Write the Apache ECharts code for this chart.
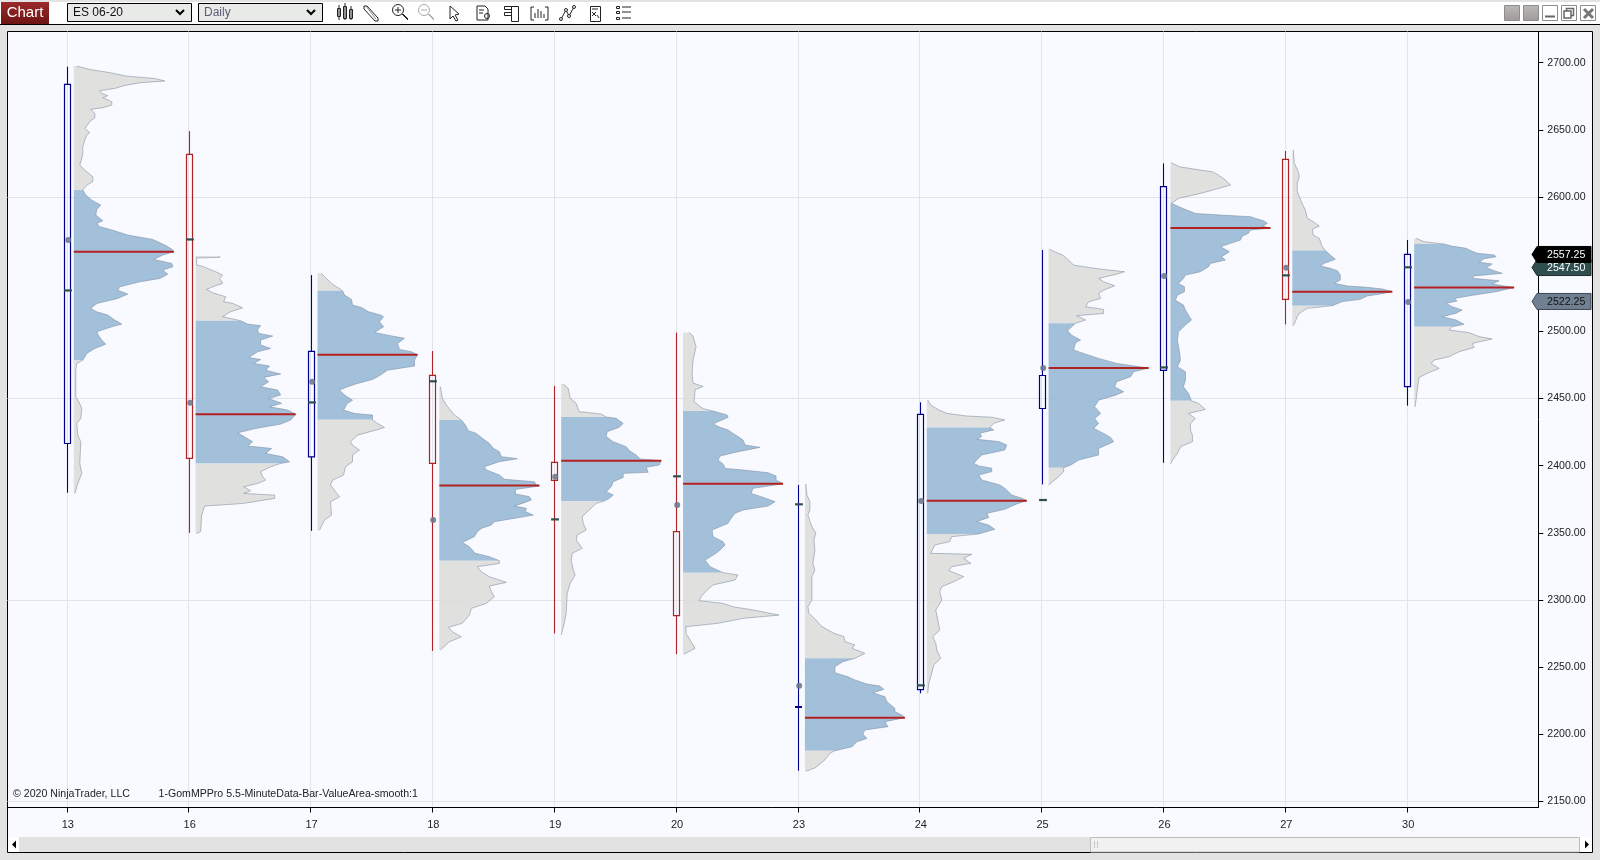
<!DOCTYPE html>
<html><head><meta charset="utf-8">
<style>html,body{margin:0;padding:0;background:#e3e3e3}#c{width:1600px;height:860px}</style>
<script src="https://cdn.jsdelivr.net/npm/echarts@6/dist/echarts.min.js"></script>
</head><body><div id="c"></div>
<script>
// Values: [price, volume as % of the day's largest row]
const prof13=[[2697.5,3],[2695,16],[2692.6,36],[2690,53],[2688.3,81],[2686.4,91],[2685.1,66],[2683.1,51],[2680.9,41],[2679.2,26],[2677.2,28],[2675.5,34],[2674,29],[2671,38],[2668.5,38],[2666.6,29],[2665.3,17],[2662.3,21],[2659.1,21],[2656.2,16],[2651.2,11],[2648,16],[2646.2,13],[2642.5,11],[2637.6,9],[2632.6,9],[2628.9,8],[2624,6],[2620.2,11],[2615.3,19],[2611.6,19],[2609.1,13],[2605.4,9],[2601.7,12],[2597.9,18],[2594.2,27],[2591,23],[2586.8,22],[2582.6,29],[2580.6,23],[2578.1,26],[2575.6,39],[2571.9,54],[2568.7,79],[2564.5,91],[2561.5,98],[2559.5,100],[2557.1,89],[2553.8,80],[2550.9,98],[2548.4,99],[2545.9,89],[2542.9,94],[2539.7,86],[2537.2,66],[2533.5,46],[2531,44],[2528.1,54],[2524.9,44],[2521.1,23],[2517.4,17],[2514.9,23],[2512.5,34],[2508.8,41],[2505.8,48],[2503.8,38],[2500.1,23],[2496.9,25],[2493.9,28],[2490.9,32],[2487.7,21],[2484,13],[2479,9],[2476.6,3],[2471.6,2],[2451.8,2],[2448.1,5],[2443.1,8],[2435.7,7],[2432,3],[2423.3,4],[2418.4,7],[2402.3,6],[2394.8,8],[2387.4,4],[2380,1]];
const prof16=[[2556.3,24],[2555.4,24],[2554.9,1],[2549.7,1],[2549.2,5],[2544.7,20],[2542.2,27],[2539.7,24],[2536,27],[2534.3,20],[2531.6,11],[2529.1,17],[2526.1,30],[2522.4,28],[2521.2,37],[2517.9,47],[2515,35],[2511.3,27],[2508.3,45],[2505.8,52],[2504.6,65],[2501.8,62],[2498.9,63],[2496.9,77],[2493.9,65],[2490.2,65],[2487.7,75],[2485.2,62],[2481,53],[2479.5,65],[2476.6,58],[2474.6,74],[2471.6,70],[2468.7,85],[2466.2,68],[2463,73],[2459.2,65],[2456.8,82],[2453.1,85],[2450.6,73],[2446.9,86],[2444.4,74],[2441.9,92],[2438.9,100],[2434.5,95],[2431.5,85],[2428.3,60],[2425,42],[2421.6,50],[2418.4,57],[2415.2,52],[2413.4,76],[2409.7,70],[2407.2,87],[2403.5,94],[2402.3,85],[2399.8,75],[2396.1,65],[2392.4,67],[2389.9,70],[2387.4,62],[2385,48],[2382,55],[2380,48],[2378.7,79],[2376.3,79],[2372.5,47],[2370.6,9],[2363.9,6],[2351.5,5],[2350.3,1]];
const prof17=[[2543.5,4],[2541,7],[2536,14],[2530.6,25],[2527.4,27],[2524.1,34],[2519.9,35],[2518.2,44],[2515,51],[2512.5,63],[2511.3,66],[2507.5,62],[2503.8,66],[2499.6,57],[2497.6,70],[2495.2,87],[2491.4,80],[2487,82],[2485.2,94],[2483,100],[2479,97],[2474.6,97],[2471.6,70],[2467.9,63],[2464.7,55],[2461.7,40],[2459.2,30],[2456.8,22],[2453.1,27],[2449.3,35],[2446.9,30],[2441.9,26],[2439.4,37],[2438.2,55],[2434.7,55],[2432,60],[2429,67],[2427,58],[2423.3,40],[2418.4,33],[2415.9,35],[2412.2,42],[2408.5,35],[2403.5,35],[2399.8,28],[2393.6,26],[2389.9,15],[2386.2,13],[2381.2,18],[2377.5,22],[2373.8,13],[2363.9,14],[2360.2,7],[2352.7,2]];
const prof18=[[2459.3,1],[2450.7,3],[2445.7,7],[2442,11],[2438.3,15],[2434.6,22],[2430.8,26],[2426.6,29],[2424.6,37],[2420.9,43],[2417.2,50],[2413.5,54],[2411,60],[2407.3,62],[2405.8,78],[2403.6,60],[2399.9,45],[2397.4,47],[2393.7,60],[2390.5,65],[2388.7,95],[2386.3,97],[2385.5,100],[2383,76],[2379.6,76],[2377.6,90],[2375.1,92],[2372.6,83],[2370.6,75],[2368.9,87],[2366.4,86],[2363.9,94],[2361.5,75],[2359,55],[2356.5,52],[2354,42],[2351.6,38],[2347.9,35],[2343.6,23],[2340.4,30],[2335.5,36],[2333,50],[2330,60],[2328,60],[2325.6,38],[2321.8,42],[2318.1,50],[2315.7,60],[2313.9,67],[2311.2,50],[2307,52],[2303.3,55],[2298.3,47],[2294.6,32],[2289.6,30],[2283.5,23],[2280.5,9],[2277.3,13],[2273.5,22],[2269.8,10],[2263.6,1]];
const prof19=[[2461.3,2],[2458.1,7],[2450.7,9],[2446.9,15],[2440.7,18],[2439,40],[2436.8,45],[2435.8,55],[2432,62],[2429.1,58],[2425.9,46],[2422.2,45],[2418.4,52],[2414.7,65],[2411.8,68],[2408.5,75],[2405.6,79],[2404.3,100],[2401.1,98],[2399.4,85],[2395.7,87],[2394.9,62],[2391.9,62],[2388.7,52],[2385,50],[2381.3,45],[2378.8,52],[2376.3,48],[2374.1,42],[2372.6,35],[2367.7,28],[2362.7,21],[2357.8,22],[2352.8,25],[2349.1,16],[2345.4,15],[2339.2,21],[2335.5,11],[2330.5,10],[2323.1,12],[2319.4,14],[2313.2,9],[2305.7,6],[2290.9,5],[2283.5,3],[2274.8,0]];
const prof20=[[2499.5,6],[2497,10],[2494,11],[2489,13],[2479,10],[2469,9],[2462,10],[2459.5,20],[2457,12],[2448,11],[2443,20],[2441.2,30],[2438.3,44],[2436.5,45],[2433.3,35],[2431.6,30],[2429.1,37],[2427.1,45],[2424.6,50],[2422.2,55],[2419.7,60],[2416,62],[2414.2,77],[2411,55],[2407.8,37],[2404.8,35],[2401.9,40],[2398.6,42],[2397.4,60],[2395.4,85],[2392.9,93],[2390,93],[2387.2,100],[2383.8,70],[2380,68],[2377.6,78],[2373.9,92],[2370.6,85],[2367.7,60],[2365.2,52],[2361.5,48],[2357.8,45],[2352.8,29],[2347.9,30],[2344.1,40],[2341.7,42],[2338,37],[2335.5,33],[2330.5,22],[2325.6,27],[2321.1,40],[2319.4,55],[2315.7,52],[2312,30],[2308.2,24],[2303.3,18],[2300.3,16],[2298.3,40],[2295.8,50],[2293.4,70],[2289.6,96],[2287.2,60],[2283.5,35],[2281,3],[2276,3],[2269.8,8],[2264.9,12],[2260.6,1]];
const prof23=[[2387,1],[2378.8,2],[2373.9,5],[2367.7,5],[2364,3],[2355.3,7],[2350.4,11],[2345.4,9],[2338,10],[2328.1,8],[2323.1,10],[2318.2,7],[2309.5,7],[2300.8,7],[2295.9,3],[2291,4],[2286,11],[2281.1,17],[2276.1,29],[2273.6,39],[2269.9,40],[2267.4,50],[2265,47],[2261.2,60],[2257.5,50],[2255,38],[2251.3,30],[2246.8,30],[2243.8,43],[2241.4,50],[2238.4,62],[2236.9,75],[2234.4,79],[2231.9,68],[2229,80],[2225.3,82],[2220.3,90],[2217.8,90],[2215.4,97],[2213.4,100],[2210.4,80],[2206.7,83],[2204.2,60],[2201.2,58],[2198,62],[2195.5,52],[2191.8,47],[2188.9,30],[2187,25],[2182,20],[2176,10],[2173.5,1]];
const prof24=[[2449.4,1],[2445.7,4],[2442,12],[2439.5,20],[2437.5,40],[2436.6,65],[2434.6,78],[2432.1,67],[2428.9,63],[2427.2,67],[2424.7,53],[2422.2,55],[2420.2,50],[2418.5,72],[2416,80],[2412.3,78],[2408.6,55],[2404.9,50],[2402.4,47],[2400.4,52],[2398.7,65],[2396.2,65],[2393.7,52],[2390,55],[2386.3,73],[2383.8,78],[2378.8,85],[2376.4,95],[2374.6,100],[2372.2,90],[2368.2,78],[2365.2,60],[2362.2,62],[2359,50],[2356.5,62],[2353.3,68],[2349.9,52],[2347.9,25],[2344.2,23],[2341.7,8],[2335.5,4],[2334.8,45],[2331.8,37],[2328.1,44],[2325.6,25],[2322.6,22],[2318.2,37],[2314.4,27],[2310.7,15],[2307,13],[2300.8,15],[2297.1,12],[2293.4,9],[2286,11],[2278.5,13],[2273.6,6],[2268.6,9],[2263.7,10],[2257.5,14],[2252.5,7],[2246.3,5],[2238.9,2],[2231.5,1]];
const prof25=[[2561.5,1],[2559.5,6],[2557.1,14],[2553.4,20],[2549.6,25],[2547.9,40],[2546.4,55],[2544.7,76],[2542.9,68],[2539.7,50],[2537.3,55],[2534.3,66],[2531,55],[2528.6,50],[2524.9,52],[2522.4,40],[2518.7,37],[2516.7,55],[2513.7,55],[2512,28],[2508.8,37],[2506.5,27],[2503.8,23],[2500.8,19],[2497.6,23],[2493.9,32],[2491.9,27],[2486.5,25],[2484,35],[2480.3,50],[2476.6,68],[2473.1,100],[2470.4,85],[2466.7,82],[2463,68],[2459.2,66],[2455.5,75],[2453,67],[2449.3,50],[2444.4,46],[2439.4,52],[2435.7,46],[2432,50],[2428.3,45],[2424.6,55],[2421.6,62],[2418.4,65],[2413.4,50],[2408.5,50],[2404.8,30],[2401,22],[2399.1,15],[2396.1,15],[2392.4,10],[2386.2,0]];
const prof26=[[2625.7,1],[2622.7,9],[2620.2,30],[2619,42],[2616.5,48],[2612.8,55],[2609.1,60],[2605.9,45],[2602.9,30],[2599.2,8],[2595.5,1],[2591.8,12],[2588,25],[2586.8,50],[2585.6,80],[2584.3,85],[2582.6,93],[2580.6,97],[2578.6,92],[2577.1,100],[2575.7,80],[2573.2,78],[2571.2,72],[2568.2,70],[2565.8,60],[2563.3,50],[2559.6,59],[2555.8,51],[2553.4,55],[2550.9,40],[2548.4,38],[2544.7,30],[2542.2,15],[2539.7,13],[2536,8],[2533.5,14],[2529.8,14],[2527.4,7],[2523.6,5],[2519.9,13],[2516.2,15],[2511.3,19],[2508.8,21],[2505.1,15],[2500.1,8],[2493.9,7],[2485.2,9],[2479,10],[2474.1,7],[2470.4,15],[2464.2,15],[2459.2,13],[2454.3,18],[2448.8,21],[2446.9,28],[2442.4,35],[2439.4,18],[2435.7,25],[2432,20],[2427,20],[2423.3,22],[2418.4,22],[2414.6,10],[2409.7,7],[2404.8,2],[2401.8,0]];
const prof27=[[2635.2,1],[2625.3,2],[2619.1,6],[2615.4,7],[2610.4,5],[2604.2,5],[2596.8,9],[2590.6,13],[2584.4,15],[2581.9,21],[2578.7,27],[2576.2,20],[2572,21],[2569.5,27],[2563.3,30],[2560.4,33],[2557.1,38],[2553.9,43],[2551,32],[2549,28],[2547.2,38],[2545.5,45],[2542.3,48],[2538.6,48],[2536.1,42],[2534.1,55],[2533.1,75],[2531.9,90],[2529.9,100],[2528.2,88],[2526.7,75],[2524.2,68],[2522.5,50],[2519.5,40],[2517.5,15],[2513.8,7],[2511.3,5],[2507.6,3],[2504.6,1]];
const prof30=[[2569.5,2],[2567,10],[2565.3,30],[2563.8,37],[2562.1,52],[2560.9,55],[2558.4,63],[2557.1,80],[2555.9,82],[2554.4,70],[2551.7,65],[2550.5,78],[2547.7,72],[2545.5,80],[2543.5,88],[2541.6,60],[2539.8,58],[2538,85],[2535.6,78],[2532.9,100],[2529.9,82],[2527.4,60],[2524.9,40],[2522.9,43],[2521.2,32],[2518.7,38],[2516.3,48],[2513.8,42],[2511.3,28],[2508.8,42],[2505.6,50],[2503.9,38],[2501.4,35],[2499.4,55],[2496.5,65],[2494.7,78],[2491.5,58],[2488.5,60],[2485.3,45],[2481.6,35],[2479.1,20],[2476.6,17],[2472.9,25],[2469.2,13],[2466.2,5],[2461.8,4],[2444.4,1]];

const dayLabels=['13','16','17','18','19','20','23','24','25','26','27','30'];
const profiles=[prof13,prof16,prof17,prof18,prof19,prof20,prof23,prof24,prof25,prof26,prof27,prof30];
const vaHighs=[2605.4,2508.3,2530.6,2434.6,2436.8,2441.2,2257.5,2428.9,2506.5,2595.5,2560.4,2565.3];
const vaLows=[2479,2402.3,2434.7,2330,2374.1,2321.1,2188.9,2349.9,2399.1,2448.8,2519.5,2503.9];
const pocs=[2559.5,2438.9,2483,2385.8,2404.3,2387.2,2213.4,2374.6,2473.1,2577.1,2529.9,2532.9];
const opens=[2417.1,2631.9,2407.2,2467.7,2403.1,2351.6,2221.3,2234.2,2443.1,2471.4,2628.2,2459.3];
const closes=[2683.9,2406,2485.5,2402.3,2389.7,2289.2,2221.3,2438.8,2467.6,2607.9,2524.2,2557.6];
const highs=[2697,2649.2,2542.2,2485.8,2459.8,2499.5,2386.3,2447.7,2560.8,2625.2,2634.4,2568.3];
const lows=[2380.5,2350.7,2352.2,2263,2276,2260.6,2174,2231.5,2386.7,2402.8,2505.6,2445.2];
const dots=[2568.2,2447.4,2463,2360.2,2392.4,2371.4,2237.2,2374.4,2473.1,2541.5,2547.7,2522.2];
const dashes=[2530.8,2568.7,2447.6,2463.3,2360.7,2392.7,2371.9,2237.4,2375.1,2473.6,2542,2548];
const priceTicks=[2150,2200,2250,2300,2350,2400,2450,2500,2550,2600,2650,2700];
const gridPrices=[2150,2300,2450,2600];
const tagPrices=[2522.25,2547.50,2557.25];

// layout constants
const PX=121.85, X0=66.8, L=7.5, R=1538.3, T=31.5, B=807.5;
const PY=1.3433, Y2700=62.7;
const xMin=(L-X0)/PX, xMax=(R-X0)/PX;
const yMax=2700+(Y2700-T)/PY, yMin=2700-(B-Y2700)/PY;
const FONT='"Liberation Sans",Arial,sans-serif';
const NAVY='#00008b', RED='#b22222', TEAL='#2f4f4f';
const tagStyle={2557.25:['#000000','#000','#fff'],2547.5:[TEAL,'#1e2e2e','#fff'],2522.25:['#708090','#3c4a5a','#111']};
// the readings above were taken with a slightly coarser price ruler
const cal=p=>2700-(2700-p)*1.346/PY;

function renderDay(params,api){
  const i=params.dataIndex, g=[], prof=profiles[i];
  const base=7/PX;
  const pt=(vol,p)=>api.coord([i+base+vol/PX,cal(p)]);
  const addPoly=(pts,fill)=>{
    if(pts.length<2)return;
    const top=pts[0][0], bot=pts[pts.length-1][0];
    const poly=[pt(0,top)].concat(pts.map(q=>pt(q[1],q[0])),[pt(0,bot)]);
    g.push({type:'polygon',shape:{points:poly},style:{fill:fill,stroke:null},z2:1});
    g.push({type:'polyline',shape:{points:pts.map(q=>pt(q[1],q[0]))},style:{stroke:'rgba(125,140,160,0.7)',lineWidth:0.8,fill:null},z2:2});
  };
  addPoly(prof.filter(q=>q[0]>=vaHighs[i]),'rgba(220,220,219,0.88)');
  addPoly(prof.filter(q=>q[0]<=vaHighs[i]&&q[0]>=vaLows[i]),'rgba(150,183,213,0.88)');
  addPoly(prof.filter(q=>q[0]<=vaLows[i]),'rgba(220,220,219,0.88)');
  // point of control
  const a=pt(0,pocs[i]), b=pt(100,pocs[i]);
  g.push({type:'line',shape:{x1:a[0],y1:a[1],x2:b[0],y2:b[1]},style:{stroke:RED,lineWidth:2},z2:3});
  // candle
  const col=closes[i]<opens[i]?RED:NAVY;
  const hi=api.coord([i,cal(highs[i])]), lo=api.coord([i,cal(lows[i])]);
  const o=api.coord([i,cal(opens[i])]), c=api.coord([i,cal(closes[i])]);
  const x=Math.round(hi[0])+0.5, yt=Math.min(o[1],c[1]), yb=Math.max(o[1],c[1]);
  g.push({type:'line',shape:{x1:x,y1:hi[1],x2:x,y2:yt},style:{stroke:col,lineWidth:1.1},z2:4});
  g.push({type:'line',shape:{x1:x,y1:yb,x2:x,y2:lo[1]},style:{stroke:col,lineWidth:1.1},z2:4});
  if(yb-yt<1.5){
    g.push({type:'line',shape:{x1:x-3.5,y1:yt,x2:x+3.5,y2:yt},style:{stroke:col,lineWidth:2},z2:4});
  }else{
    g.push({type:'rect',shape:{x:x-3,y:yt,width:6,height:yb-yt},style:{stroke:col,lineWidth:1.2,fill:null},z2:4});
  }
  // markers
  const d=api.coord([i,cal(dashes[i])]);
  g.push({type:'line',shape:{x1:x-3.4,y1:d[1],x2:x+4.4,y2:d[1]},style:{stroke:TEAL,lineWidth:2.2},z2:5});
  const m=api.coord([i,cal(dots[i])]);
  g.push({type:'circle',shape:{cx:x+0.7,cy:m[1],r:3},style:{fill:'rgba(105,120,140,0.88)'},z2:5});
  return {type:'group',children:g};
}
function renderTag(params,api){
  const p=tagPrices[params.dataIndex], s=tagStyle[p], k=params.dataIndex;
  const y=api.coord([0,p])[1];
  const x0=1532,x1=1537,x2=1591,h=8;
  return {type:'group',children:[
    {type:'polygon',z2:k+1,shape:{points:[[x0,y],[x1,y-h],[x2,y-h],[x2,y+h],[x1,y+h]]},style:{fill:s[0],stroke:s[1],lineWidth:1}},
    {type:'text',z2:10,style:{x:1547,y:y+1,text:p.toFixed(2),fill:s[2],font:'10.6px '+FONT,textVerticalAlign:'middle',textAlign:'left'}}
  ]};
}

// window furniture
const furn=[];
const bg=(o)=>{o.z=-20;furn.push(o);};
const fg=(o)=>{o.z=30;furn.push(o);};
bg({type:'rect',shape:{x:0,y:0,width:1600,height:860},style:{fill:'#e3e3e3'}});
bg({type:'rect',shape:{x:0,y:2,width:1600,height:22},style:{fill:'#ffffff'}});
bg({type:'line',shape:{x1:0,y1:24.5,x2:1600,y2:24.5},style:{stroke:'#000',lineWidth:1}});
bg({type:'rect',shape:{x:7.5,y:31.5,width:1585,height:821},style:{fill:'#f8faff',stroke:'#000',lineWidth:1}});
bg({type:'rect',shape:{x:8,y:837,width:11,height:15},style:{fill:'#ffffff'}});
bg({type:'rect',shape:{x:19,y:837,width:1071,height:15},style:{fill:'#e2e2e2'}});
bg({type:'rect',shape:{x:1090.5,y:837.5,width:489,height:14.5},style:{fill:'#f1f1f1',stroke:'#bdbdbd',lineWidth:1}});
bg({type:'rect',shape:{x:1580,y:837,width:12,height:15},style:{fill:'#ffffff'}});
bg({type:'line',shape:{x1:1094.5,y1:841,x2:1094.5,y2:848},style:{stroke:'#c8c8c8',lineWidth:1}});
bg({type:'line',shape:{x1:1097.5,y1:841,x2:1097.5,y2:848},style:{stroke:'#c8c8c8',lineWidth:1}});
bg({type:'polygon',shape:{points:[[12,844.5],[16,840.5],[16,848.5]]},style:{fill:'#000'}});
bg({type:'polygon',shape:{points:[[1589,844.5],[1585,840.5],[1585,848.5]]},style:{fill:'#000'}});
// tab
bg({type:'rect',shape:{x:1,y:2,width:48,height:22},style:{fill:new echarts.graphic.LinearGradient(0,0,0,1,[{offset:0,color:'#9b2a2a'},{offset:1,color:'#6e1414'}])}});
bg({type:'text',style:{x:25,y:13,text:'Chart',fill:'#fff',font:'15px '+FONT,textAlign:'center',textVerticalAlign:'middle'}});
// selectors
[[67,124,'ES 06-20','#111'],[198,124,'Daily','#5c5c78']].forEach(s=>{
  bg({type:'rect',shape:{x:s[0]+.5,y:3.5,width:s[1],height:18},style:{fill:'#e8eae8',stroke:'#000',lineWidth:1}});
  bg({type:'text',style:{x:s[0]+6,y:13,text:s[2],fill:s[3],font:'12px '+FONT,textVerticalAlign:'middle'}});
  const cx=s[0]+s[1]-11;
  bg({type:'polyline',shape:{points:[[cx-4,10],[cx,14],[cx+4,10]]},style:{stroke:'#000',lineWidth:2,fill:null}});
});
// toolbar icons
const ic=(pts,col)=>bg({type:'polyline',shape:{points:pts},style:{stroke:col||'#222',lineWidth:1,fill:null}});
const rc=(x,y,w,h,col)=>bg({type:'rect',shape:{x:x+.5,y:y+.5,width:w,height:h},style:{stroke:col||'#222',lineWidth:1,fill:null}});
// candles
[[337,8,6,[5,20]],[343,6,10,[3,20]],[349,9,7,[6,20]]].forEach(c=>{rc(c[0],c[1],3,c[2]+2);ic([[c[0]+2,c[3][0]],[c[0]+2,c[3][1]]]);});
// pencil
ic([[364,6],[367,6],[378,18],[378,21],[375,21],[364,9],[364,6]]);ic([[366,6],[376,19]],'#888');
// zoom in / out
[[398,10,'#222',true],[424,10,'#aaa',false]].forEach(z=>{
  bg({type:'circle',shape:{cx:z[0],cy:z[1],r:5.5},style:{stroke:z[2],fill:null,lineWidth:1}});
  ic([[z[0]+4,z[1]+4],[z[0]+10,z[1]+10]],z[2]);ic([[z[0]+5,z[1]+4],[z[0]+10,z[1]+9]],z[2]);
  ic([[z[0]-3,z[1]],[z[0]+3,z[1]]],z[2]);
  if(z[3])ic([[z[0],z[1]-3],[z[0],z[1]+3]],z[2]);
});
// arrow
ic([[450,6],[450,19],[453,16],[456,21],[458,20],[455,15],[459,14],[450,6]]);
// doc
ic([[477,6],[485,6],[488,9],[488,20],[477,20],[477,6]]);ic([[479,10],[484,10]]);ic([[479,13],[483,13]]);
bg({type:'circle',shape:{cx:487,cy:16,r:2.5},style:{stroke:'#222',fill:null,lineWidth:1}});
// data box
rc(504,6,7,3);rc(504,12,7,3);rc(511,6,7,15);
// bars in brackets
ic([[534,7],[531,7],[531,20],[534,20]]);ic([[545,7],[548,7],[548,20],[545,20]]);
ic([[535,18],[535,13]]);ic([[538,18],[538,9]]);ic([[541,18],[541,11]]);ic([[544,18],[544,14]]);
// line
ic([[561,19],[566,10],[569,16],[574,7]]);
[[561,19],[566,10],[569,16],[574,7]].forEach(p=>bg({type:'circle',shape:{cx:p[0],cy:p[1],r:1.5},style:{stroke:'#222',fill:'#fff',lineWidth:1}}));
// form
rc(590,6,10,15);ic([[592,9],[598,9]]);ic([[592,12],[596,16]]);ic([[596,12],[592,16]]);ic([[597,15],[599,18]]);
// list
[7,12,18].forEach(y=>{rc(616,y-1,3,2);ic([[622,y],[631,y]]);});
// window buttons
[1504,1523].forEach(x=>bg({type:'rect',shape:{x:x+.5,y:5.5,width:15,height:15},style:{fill:new echarts.graphic.LinearGradient(0,0,0,1,[{offset:0,color:'#bdb9b9'},{offset:1,color:'#9e9a9a'}]),stroke:'#8c8c8c',lineWidth:1}}));
[1542,1561,1580].forEach(x=>bg({type:'rect',shape:{x:x+.5,y:5.5,width:15,height:15},style:{fill:'#fff',stroke:'#8c8c8c',lineWidth:1}}));
bg({type:'line',shape:{x1:1545,y1:16.5,x2:1555,y2:16.5},style:{stroke:'#666',lineWidth:2}});
bg({type:'rect',shape:{x:1566.5,y:8.5,width:7,height:7},style:{stroke:'#666',lineWidth:1.5,fill:null}});
bg({type:'rect',shape:{x:1564,y:11,width:7,height:7},style:{stroke:'#666',lineWidth:1.5,fill:'#fff'}});
bg({type:'line',shape:{x1:1584,y1:9,x2:1593,y2:18},style:{stroke:'#777',lineWidth:3}});
bg({type:'line',shape:{x1:1593,y1:9,x2:1584,y2:18},style:{stroke:'#777',lineWidth:3}});
// chart notes
fg({type:'text',style:{x:13,y:794,text:'© 2020 NinjaTrader, LLC',fill:'#222',font:'10.6px '+FONT,textVerticalAlign:'middle'}});
fg({type:'text',style:{x:158.5,y:794,text:'1-GomMPPro 5.5-MinuteData-Bar-ValueArea-smooth:1',fill:'#222',font:'10.6px '+FONT,textVerticalAlign:'middle'}});

const grid={left:L,right:1600-R,top:T,bottom:860-B,containLabel:false,show:false};
const dayIdx=dayLabels.map((_,i)=>i);
const chart=echarts.init(document.getElementById('c'),null,{renderer:'canvas'});
chart.setOption({
  animation:false,
  backgroundColor:'#e3e3e3',
  graphic:{elements:furn},
  grid:grid,
  xAxis:{type:'value',min:xMin,max:xMax,
    axisLine:{show:true,onZero:false,lineStyle:{color:'#000',width:1}},
    axisTick:{show:true,length:5,customValues:dayIdx,lineStyle:{color:'#000'}},
    axisLabel:{show:true,margin:12,padding:[0,0,0,2],customValues:dayIdx,color:'#222',fontFamily:'Liberation Sans',fontSize:11,formatter:v=>dayLabels[Math.round(v)]},
    splitLine:{show:true,lineStyle:{color:'#e2e3e9',width:1}}},
  yAxis:[{type:'value',position:'right',min:yMin,max:yMax,
    axisLine:{show:true,onZero:false,lineStyle:{color:'#000',width:1}},
    axisTick:{show:true,length:5,customValues:priceTicks,lineStyle:{color:'#000'}},
    axisLabel:{show:true,margin:9,padding:[2,0,0,0],customValues:priceTicks,color:'#222',fontFamily:'Liberation Sans',fontSize:10.6,align:'left',formatter:v=>v.toFixed(2)},
    splitLine:{show:false}},
   {type:'value',position:'left',min:yMin,max:yMax,
    axisLine:{show:false,onZero:false},
    axisTick:{show:false,customValues:gridPrices},
    axisLabel:{show:false},
    splitLine:{show:true,lineStyle:{color:'#e2e3e9',width:1}}}],
  series:[
    {type:'custom',name:'profiles',clip:false,z:5,coordinateSystem:'cartesian2d',data:dayIdx,renderItem:renderDay,silent:true},
    {type:'custom',name:'last prices',clip:false,z:20,coordinateSystem:'cartesian2d',data:tagPrices,renderItem:renderTag,silent:true}
  ]
});
</script></body></html>
